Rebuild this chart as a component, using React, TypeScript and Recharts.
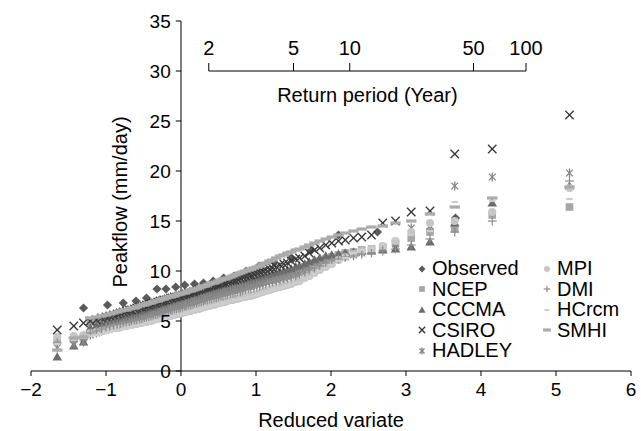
import { ReferenceLine, Scatter, ScatterChart, XAxis, YAxis } from "recharts";

// Gringorten plotting positions (reduced variate) for the 100-year model series
const reducedVariate = [
  -1.65, -1.43, -1.3, -1.21, -1.13, -1.06, -1.0, -0.95, -0.9, -0.85,
  -0.81, -0.77, -0.73, -0.69, -0.66, -0.62, -0.59, -0.55, -0.52, -0.49,
  -0.46, -0.43, -0.4, -0.37, -0.34, -0.31, -0.28, -0.25, -0.23, -0.2,
  -0.17, -0.14, -0.12, -0.09, -0.06, -0.03, -0.01, 0.02, 0.05, 0.07,
  0.1, 0.13, 0.16, 0.18, 0.21, 0.24, 0.27, 0.3, 0.32, 0.35,
  0.38, 0.41, 0.44, 0.47, 0.5, 0.53, 0.56, 0.59, 0.62, 0.66,
  0.69, 0.72, 0.75, 0.79, 0.82, 0.86, 0.9, 0.93, 0.97, 1.01,
  1.05, 1.09, 1.13, 1.18, 1.22, 1.27, 1.32, 1.37, 1.42, 1.47,
  1.53, 1.58, 1.65, 1.71, 1.78, 1.85, 1.93, 2.01, 2.1, 2.19,
  2.3, 2.41, 2.54, 2.69, 2.86, 3.07, 3.32, 3.65, 4.15, 5.18,
];

// observed record is shorter (22 values)
const observedVariate = [
  -1.3, -0.98, -0.77, -0.6, -0.46, -0.32, -0.2, -0.07, 0.05, 0.18, 0.3,
  0.43, 0.57, 0.71, 0.87, 1.04, 1.24, 1.47, 1.74, 2.1, 2.62, 3.66,
];
const observed = [
  6.3, 6.6, 6.8, 7.0, 7.3, 8.2, 8.2, 8.4, 8.6, 8.7, 8.8,
  9.0, 9.3, 9.5, 10.0, 10.5, 10.9, 11.3, 12.1, 13.6, 13.9, 15.3,
];

const ncep = [
  3.0, 3.2, 3.3, 4.9, 5.0, 5.1, 5.3, 5.3, 5.4, 5.5,
  5.5, 5.6, 5.7, 5.7, 5.8, 5.8, 5.9, 5.9, 6.0, 6.0,
  6.1, 6.1, 6.2, 6.2, 6.3, 6.3, 6.4, 6.4, 6.5, 6.5,
  6.6, 6.6, 6.7, 6.7, 6.8, 6.8, 6.9, 6.9, 7.0, 7.0,
  7.1, 7.1, 7.2, 7.2, 7.3, 7.3, 7.4, 7.5, 7.5, 7.6,
  7.6, 7.7, 7.7, 7.8, 7.8, 7.9, 8.0, 8.0, 8.1, 8.2,
  8.2, 8.3, 8.4, 8.4, 8.5, 8.6, 8.7, 8.7, 8.8, 8.9,
  9.0, 9.1, 9.2, 9.3, 9.4, 9.5, 9.6, 9.7, 9.8, 9.9,
  10.0, 10.2, 10.4, 10.6, 10.8, 11.0, 11.2, 11.4, 11.6, 11.8,
  11.9, 12.1, 12.2, 12.4, 12.8, 13.3, 13.9, 14.2, 15.6, 16.4,
];

const cccma = [
  1.4, 2.5, 2.9, 4.3, 4.5, 4.7, 4.8, 4.9, 5.0, 5.1,
  5.2, 5.3, 5.3, 5.4, 5.5, 5.5, 5.6, 5.7, 5.7, 5.8,
  5.9, 5.9, 6.0, 6.1, 6.1, 6.2, 6.2, 6.3, 6.4, 6.4,
  6.5, 6.5, 6.6, 6.7, 6.7, 6.8, 6.8, 6.9, 7.0, 7.0,
  7.1, 7.2, 7.2, 7.3, 7.4, 7.4, 7.5, 7.6, 7.6, 7.7,
  7.8, 7.8, 7.9, 8.0, 8.0, 8.1, 8.2, 8.3, 8.3, 8.4,
  8.5, 8.5, 8.6, 8.7, 8.8, 8.9, 9.0, 9.0, 9.1, 9.2,
  9.3, 9.4, 9.5, 9.6, 9.7, 9.8, 9.9, 10.0, 10.1, 10.2,
  10.4, 10.5, 10.7, 10.9, 11.1, 11.3, 11.5, 11.6, 11.7, 11.8,
  11.9, 12.0, 12.0, 12.1, 12.2, 12.4, 12.9, 14.8, 16.8, 18.5,
];

const csiro = [
  4.1, 4.5, 4.8, 5.0, 5.1, 5.3, 5.4, 5.5, 5.6, 5.7,
  5.8, 5.9, 6.0, 6.1, 6.1, 6.2, 6.3, 6.4, 6.4, 6.5,
  6.6, 6.6, 6.7, 6.8, 6.8, 6.9, 7.0, 7.0, 7.1, 7.1,
  7.2, 7.3, 7.3, 7.4, 7.4, 7.5, 7.5, 7.6, 7.6, 7.7,
  7.8, 7.8, 7.9, 7.9, 8.0, 8.1, 8.1, 8.2, 8.3, 8.3,
  8.4, 8.5, 8.5, 8.6, 8.6, 8.7, 8.8, 8.8, 8.9, 9.0,
  9.1, 9.1, 9.2, 9.3, 9.4, 9.5, 9.6, 9.6, 9.7, 9.8,
  9.9, 10.0, 10.1, 10.2, 10.3, 10.4, 10.6, 10.7, 10.8, 11.0,
  11.2, 11.3, 11.5, 11.8, 12.1, 12.3, 12.6, 12.8, 13.0, 13.1,
  13.3, 13.4, 13.6, 14.8, 15.0, 15.9, 16.0, 21.7, 22.2, 25.6,
];

const hadley = [
  2.3, 2.6, 2.9, 3.6, 3.8, 4.0, 4.2, 4.3, 4.4, 4.5,
  4.6, 4.7, 4.8, 4.8, 4.9, 5.0, 5.0, 5.1, 5.2, 5.2,
  5.3, 5.4, 5.5, 5.5, 5.6, 5.7, 5.8, 5.9, 5.9, 6.0,
  6.1, 6.2, 6.2, 6.3, 6.4, 6.4, 6.5, 6.6, 6.6, 6.7,
  6.8, 6.8, 6.9, 7.0, 7.0, 7.1, 7.2, 7.3, 7.3, 7.4,
  7.5, 7.5, 7.6, 7.7, 7.7, 7.8, 7.9, 7.9, 8.0, 8.1,
  8.1, 8.2, 8.2, 8.3, 8.4, 8.4, 8.5, 8.5, 8.6, 8.7,
  8.7, 8.8, 8.9, 9.0, 9.0, 9.1, 9.2, 9.3, 9.4, 9.5,
  9.6, 9.7, 9.9, 10.0, 10.1, 10.4, 10.6, 10.9, 11.2, 11.4,
  11.6, 11.8, 12.0, 12.3, 12.7, 14.3, 14.5, 18.5, 19.4, 19.8,
];

const mpi = [
  3.4, 3.5, 3.6, 3.8, 3.9, 4.0, 4.1, 4.2, 4.3, 4.3,
  4.4, 4.5, 4.5, 4.6, 4.6, 4.7, 4.7, 4.8, 4.8, 4.9,
  4.9, 5.0, 5.0, 5.1, 5.2, 5.2, 5.3, 5.3, 5.4, 5.4,
  5.5, 5.5, 5.6, 5.6, 5.7, 5.7, 5.8, 5.8, 5.9, 5.9,
  6.0, 6.0, 6.1, 6.1, 6.2, 6.2, 6.3, 6.4, 6.4, 6.5,
  6.5, 6.6, 6.6, 6.7, 6.8, 6.8, 6.9, 6.9, 7.0, 7.1,
  7.1, 7.2, 7.2, 7.3, 7.4, 7.4, 7.5, 7.5, 7.6, 7.7,
  7.8, 7.9, 8.0, 8.1, 8.2, 8.3, 8.4, 8.5, 8.6, 8.7,
  8.9, 9.0, 9.3, 9.5, 9.8, 10.1, 10.4, 10.7, 11.1, 11.4,
  11.7, 12.0, 12.2, 12.5, 13.0, 13.9, 14.8, 15.0, 15.9, 18.3,
];

const dmi = [
  2.8, 3.0, 3.2, 3.8, 4.0, 4.2, 4.4, 4.5, 4.6, 4.7,
  4.7, 4.8, 4.9, 4.9, 5.0, 5.1, 5.1, 5.2, 5.2, 5.3,
  5.4, 5.4, 5.5, 5.6, 5.6, 5.7, 5.8, 5.8, 5.9, 5.9,
  6.0, 6.1, 6.1, 6.2, 6.2, 6.3, 6.3, 6.4, 6.5, 6.5,
  6.6, 6.6, 6.7, 6.8, 6.8, 6.9, 6.9, 7.0, 7.1, 7.1,
  7.2, 7.2, 7.3, 7.3, 7.4, 7.5, 7.5, 7.6, 7.6, 7.7,
  7.8, 7.8, 7.9, 7.9, 8.0, 8.1, 8.2, 8.2, 8.3, 8.4,
  8.5, 8.6, 8.7, 8.8, 8.9, 9.0, 9.1, 9.2, 9.3, 9.4,
  9.5, 9.7, 9.9, 10.1, 10.3, 10.5, 10.8, 11.0, 11.2, 11.4,
  11.5, 11.7, 11.8, 12.0, 12.2, 12.6, 13.2, 13.9, 15.0, 19.0,
];

const hcrcm = [
  2.7, 3.1, 3.3, 3.5, 3.6, 3.7, 3.8, 3.9, 4.0, 4.0,
  4.1, 4.2, 4.3, 4.3, 4.4, 4.5, 4.5, 4.6, 4.6, 4.7,
  4.8, 4.8, 4.9, 4.9, 5.0, 5.1, 5.1, 5.2, 5.2, 5.3,
  5.3, 5.4, 5.4, 5.5, 5.5, 5.6, 5.6, 5.7, 5.7, 5.8,
  5.9, 5.9, 6.0, 6.0, 6.1, 6.1, 6.2, 6.3, 6.3, 6.4,
  6.4, 6.5, 6.5, 6.6, 6.7, 6.7, 6.8, 6.8, 6.9, 7.0,
  7.0, 7.1, 7.1, 7.2, 7.3, 7.3, 7.4, 7.4, 7.5, 7.6,
  7.7, 7.8, 7.9, 8.0, 8.1, 8.2, 8.3, 8.4, 8.5, 8.6,
  8.8, 8.9, 9.2, 9.4, 9.7, 10.0, 10.3, 10.6, 11.0, 11.3,
  11.8, 12.1, 12.3, 12.7, 13.2, 13.6, 14.0, 16.9, 17.0, 17.2,
];

const smhi = [
  2.1, 3.3, 3.4, 5.3, 5.4, 5.5, 5.6, 5.7, 5.8, 5.9,
  6.0, 6.1, 6.1, 6.2, 6.3, 6.3, 6.4, 6.5, 6.6, 6.6,
  6.7, 6.8, 6.8, 6.9, 7.0, 7.0, 7.1, 7.2, 7.2, 7.3,
  7.4, 7.4, 7.5, 7.5, 7.6, 7.7, 7.7, 7.8, 7.8, 7.9,
  8.0, 8.0, 8.1, 8.2, 8.2, 8.3, 8.4, 8.5, 8.5, 8.6,
  8.7, 8.8, 8.8, 8.9, 9.0, 9.1, 9.2, 9.2, 9.3, 9.4,
  9.5, 9.6, 9.7, 9.8, 9.9, 10.0, 10.1, 10.2, 10.3, 10.4,
  10.5, 10.7, 10.8, 11.0, 11.1, 11.3, 11.5, 11.6, 11.8, 11.9,
  12.1, 12.2, 12.4, 12.6, 12.8, 13.0, 13.2, 13.4, 13.6, 13.8,
  14.0, 14.2, 14.4, 14.5, 14.8, 15.0, 15.7, 16.4, 17.3, 18.4,
];

const xTicks = [-2, -1, 0, 1, 2, 3, 4, 5, 6];
const yTicks = [0, 5, 10, 15, 20, 25, 30, 35];
const returnPeriods = [2, 5, 10, 50, 100];
const returnPeriodVariate = [0.37, 1.5, 2.25, 3.9, 4.6];

type Kind = "diamond" | "square" | "triangle" | "cross" | "star" | "circle" | "plus" | "dash" | "bar";

const series: { name: string; kind: Kind; color: string; xs: number[]; ys: number[] }[] = [
  { name: "Observed", kind: "diamond", color: "#5a5a5a", xs: observedVariate, ys: observed },
  { name: "NCEP", kind: "square", color: "#a6a6a6", xs: reducedVariate, ys: ncep },
  { name: "CCCMA", kind: "triangle", color: "#6c6c6c", xs: reducedVariate, ys: cccma },
  { name: "CSIRO", kind: "cross", color: "#3a3a3a", xs: reducedVariate, ys: csiro },
  { name: "HADLEY", kind: "star", color: "#838383", xs: reducedVariate, ys: hadley },
  { name: "MPI", kind: "circle", color: "#c6c6c6", xs: reducedVariate, ys: mpi },
  { name: "DMI", kind: "plus", color: "#8c8c8c", xs: reducedVariate, ys: dmi },
  { name: "HCrcm", kind: "dash", color: "#cdcdcd", xs: reducedVariate, ys: hcrcm },
  { name: "SMHI", kind: "bar", color: "#ababab", xs: reducedVariate, ys: smhi },
];

const FONT = '"Liberation Sans", Arial, Helvetica, sans-serif';

function Marker({ kind, cx, cy, color, s = 1 }: { kind: Kind; cx: number; cy: number; color: string; s?: number }) {
  if (cx == null || cy == null) return null;
  switch (kind) {
    case "diamond": {
      const r = 4.6 * s;
      return <polygon points={`${cx},${cy - r} ${cx + r},${cy} ${cx},${cy + r} ${cx - r},${cy}`} fill={color} />;
    }
    case "square": {
      const h = 3.8 * s;
      return <rect x={cx - h} y={cy - h} width={2 * h} height={2 * h} fill={color} />;
    }
    case "triangle": {
      const r = 4.8 * s;
      return <polygon points={`${cx},${cy - r} ${cx + r},${cy + r * 0.75} ${cx - r},${cy + r * 0.75}`} fill={color} />;
    }
    case "cross": {
      const r = 4.2 * s;
      return (
        <g stroke={color} strokeWidth={1.4}>
          <line x1={cx - r} y1={cy - r} x2={cx + r} y2={cy + r} />
          <line x1={cx - r} y1={cy + r} x2={cx + r} y2={cy - r} />
        </g>
      );
    }
    case "star": {
      const r = 3.4 * s;
      return (
        <g stroke={color} strokeWidth={1.3}>
          <line x1={cx - r} y1={cy - r} x2={cx + r} y2={cy + r} />
          <line x1={cx - r} y1={cy + r} x2={cx + r} y2={cy - r} />
          <line x1={cx} y1={cy - r * 1.35} x2={cx} y2={cy + r * 1.35} />
        </g>
      );
    }
    case "circle":
      return <circle cx={cx} cy={cy} r={4 * s} fill={color} />;
    case "plus": {
      const r = 4.4 * s;
      return (
        <g stroke={color} strokeWidth={1.2}>
          <line x1={cx - r} y1={cy} x2={cx + r} y2={cy} />
          <line x1={cx} y1={cy - r} x2={cx} y2={cy + r} />
        </g>
      );
    }
    case "dash":
      return <rect x={cx - 3.2 * s} y={cy - 1.1} width={6.4 * s} height={2.2} fill={color} />;
    case "bar":
      return <rect x={cx - 5.2 * s} y={cy - 1.6} width={10.4 * s} height={3.2} fill={color} />;
  }
  return null;
}

function LegendBox() {
  return (
    <div style={{ position: "absolute", left: 0, top: 0, width: 641, height: 431, pointerEvents: "none" }}>
      {series.map((s, i) => {
        const col = i < 5 ? 0 : 1;
        const row = i < 5 ? i : i - 5;
        const left = col === 0 ? 415 : 540;
        const top = 258 + row * 20.6;
        return (
          <div
            key={s.name}
            style={{
              position: "absolute",
              left,
              top,
              height: 21,
              display: "flex",
              alignItems: "center",
              fontFamily: FONT,
              fontSize: 20,
              color: "#000",
              whiteSpace: "nowrap",
            }}
          >
            <svg width={14} height={14} style={{ marginRight: 3 }}>
              <Marker kind={s.kind} cx={7} cy={7} color={s.color} s={0.75} />
            </svg>
            <span>{s.name}</span>
          </div>
        );
      })}
    </div>
  );
}

const fmt = (v: number) => String(v).replace("-", "\u2212");

export default function App() {
  return (
    <div style={{ position: "absolute", left: 0, top: 0, width: 641, height: 431, background: "#fff", fontFamily: FONT }}>
      <ScatterChart width={641} height={431} margin={{ top: 21, right: 10, left: 31, bottom: 0 }}>
        <XAxis
          type="number"
          dataKey="x"
          domain={[-2, 6]}
          ticks={xTicks}
          tickFormatter={fmt}
          height={60}
          tickSize={5}
          tickMargin={7}
          axisLine={{ stroke: "#000", strokeWidth: 1 }}
          tickLine={{ stroke: "#000" }}
          tick={{ fill: "#000", fontSize: 19, fontFamily: FONT }}
          label={{ value: "Reduced variate", position: "insideBottom", offset: 4, fill: "#000", fontSize: 20, fontFamily: FONT }}
        />
        <YAxis type="number" dataKey="y" domain={[0, 35]} hide />

        <ReferenceLine
          x={0}
          stroke="#000"
          strokeWidth={1}
          label={(props: any) => {
            const vb = props.viewBox || { x: 181, y: 21, height: 350 };
            const cx = vb.x - 61;
            const cy = vb.y + vb.height / 2 + 6;
            return (
              <text
                x={cx}
                y={cy}
                transform={`rotate(-90 ${cx} ${cy})`}
                textAnchor="middle"
                dominantBaseline="central"
                fontSize={20}
                fontFamily={FONT}
                fill="#000"
              >
                Peakflow (mm/day)
              </text>
            );
          }}
        />
        {yTicks.map((v) => (
          <ReferenceLine
            key={`yt${v}`}
            segment={[
              { x: -0.07, y: v },
              { x: 0, y: v },
            ]}
            stroke="#000"
            label={{ value: String(v), position: "left", offset: 5, fill: "#000", fontSize: 19, fontFamily: FONT }}
          />
        ))}

        <ReferenceLine
          segment={[
            { x: returnPeriodVariate[0], y: 30 },
            { x: returnPeriodVariate[returnPeriodVariate.length - 1], y: 30 },
          ]}
          stroke="#000"
          label={{ value: "Return period (Year)", position: "bottom", offset: 17, fill: "#000", fontSize: 20, fontFamily: FONT }}
        />
        {returnPeriods.map((t, i) => (
          <ReferenceLine
            key={`rp${t}`}
            segment={[
              { x: returnPeriodVariate[i], y: 30 },
              { x: returnPeriodVariate[i], y: 30.8 },
            ]}
            stroke="#000"
            label={{ value: String(t), position: "top", offset: 8, fill: "#000", fontSize: 20, fontFamily: FONT }}
          />
        ))}

        {series.map((s) => (
          <Scatter
            key={s.name}
            name={s.name}
            data={s.xs.map((x, i) => ({ x, y: s.ys[i] }))}
            fill={s.color}
            isAnimationActive={false}
            shape={(p: any) => <Marker kind={s.kind} cx={p.cx} cy={p.cy} color={s.color} />}
          />
        ))}
      </ScatterChart>
      <LegendBox />
    </div>
  );
}
